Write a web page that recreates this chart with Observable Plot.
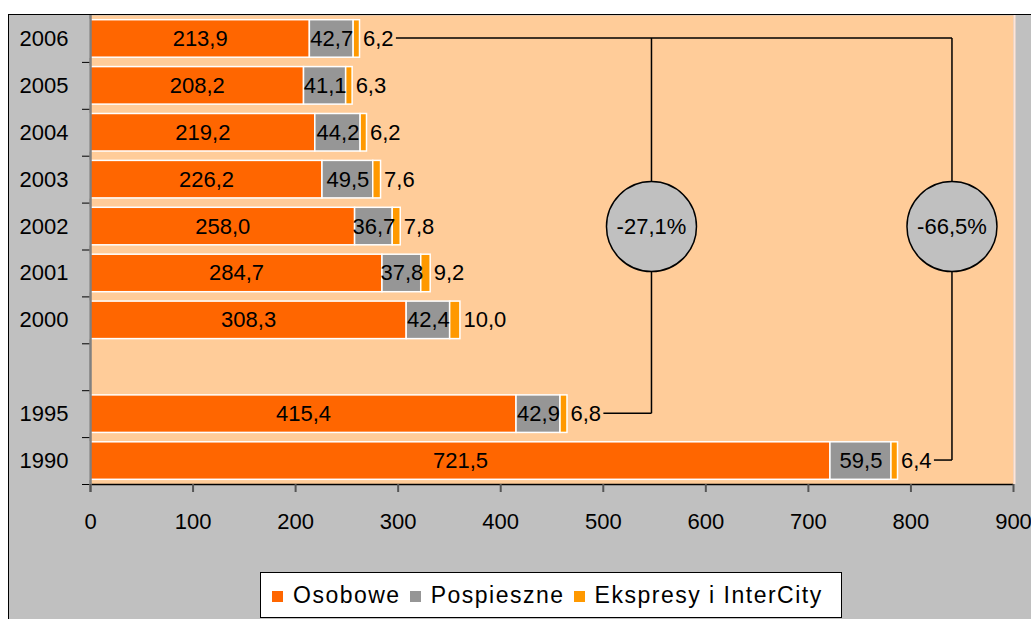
<!DOCTYPE html>
<html><head><meta charset="utf-8">
<script src="https://cdn.jsdelivr.net/npm/d3@7"></script>
<script src="https://cdn.jsdelivr.net/npm/@observablehq/plot@0.6"></script>
<style>
body{margin:0;background:#fff;width:1031px;height:619px;overflow:hidden;position:relative;font-family:"Liberation Sans",Arial,sans-serif;}
#bg{position:absolute;left:8px;top:14px;right:0;bottom:0;background:#C0C0C0;border-left:1px solid #000;border-top:1px solid #000;}
#chart{position:absolute;left:0;top:0;}
#legend{position:absolute;left:260px;top:572px;background:#fff;border:1px solid #000;display:flex;align-items:center;padding-left:11px;box-sizing:border-box;width:582px;height:46px;font-size:23px;letter-spacing:1.5px;color:#000;white-space:nowrap;}
#legend .item{display:flex;align-items:center;margin-right:9px;}
#legend .sw{width:11px;height:11px;margin-right:10px;margin-top:2px;}
</style>
</head><body>
<div id="bg"></div>
<div id="chart"></div>
<div id="legend"></div>
<script>
// ---- data ----
const years = ["2006","2005","2004","2003","2002","2001","2000"," ","1995","1990"];
const osobowe    = [213.9, 208.2, 219.2, 226.2, 258.0, 284.7, 308.3, null, 415.4, 721.5];
const pospieszne = [42.7, 41.1, 44.2, 49.5, 36.7, 37.8, 42.4, null, 42.9, 59.5];
const ekspresy   = [6.2, 6.3, 6.2, 7.6, 7.8, 9.2, 10.0, null, 6.8, 6.4];
const seriesNames = ["Osobowe", "Pospieszne", "Ekspresy i InterCity"];
const seriesColors = ["#FF6600", "#969696", "#FF9900"];
const xTicks = [0, 100, 200, 300, 400, 500, 600, 700, 800, 900];
// change annotations
const changeLabels = ["-27,1%", "-66,5%"];
const changeX = [547, 840];
const changeFrom = ["1995", "1990"];
const changeTo = "2006";
const changeRow = "2002";

// ---- build tables ----
const fmt = v => d3.format(".1f")(v).replace(".", ",");
const rows = years.map((y, i) => ({year: y, os: osobowe[i], po: pospieszne[i], ek: ekspresy[i]}))
  .filter(d => d.os != null);
rows.forEach(d => d.total = d.os + d.po + d.ek);
const long = [];
rows.forEach(d => {
  long.push({year: d.year, series: seriesNames[0], value: d.os});
  long.push({year: d.year, series: seriesNames[1], value: d.po});
  long.push({year: d.year, series: seriesNames[2], value: d.ek});
});
const totalOf = y => rows.find(d => d.year === y).total;
const labelGap = 35; // room for the value label before a connector starts
const segs = [];
segs.push({x1: totalOf(changeTo) + labelGap, y1: changeTo, x2: changeX[1], y2: changeTo});
changeX.forEach((cx, i) => {
  segs.push({x1: cx, y1: changeTo, x2: cx, y2: changeFrom[i]});
  segs.push({x1: totalOf(changeFrom[i]) + labelGap, y1: changeFrom[i], x2: cx, y2: changeFrom[i]});
});
const changes = changeLabels.map((t, i) => ({x: changeX[i], y: changeRow, text: t}));

const W = 1031, H = 540, mT = 15, mB = 56, mL = 90, mR = 18;
const step = (H - mT - mB) / years.length;   // band step (outer padding 0.1, inner 0.2)

const chart = Plot.plot({
  width: W, height: H,
  marginLeft: mL, marginRight: mR, marginTop: mT, marginBottom: mB,
  style: {background: "transparent", fontFamily: '"Liberation Sans",Arial,sans-serif', fontSize: "22px", color: "#000"},
  x: {domain: [0, 900], nice: false},
  y: {domain: years, paddingInner: 0.2, paddingOuter: 0.1, round: false},
  color: {domain: seriesNames, range: seriesColors},
  marks: [
    Plot.frame({fill: "#FFCC99", stroke: null}),
    Plot.ruleX([900], {stroke: "#FFE4D6", strokeWidth: 2, dx: 1}),
    Plot.barX(long, {y: "year", x: "value", fill: "series", stroke: "white", strokeWidth: 1.5, order: seriesNames}),
    Plot.text(rows, {y: "year", x: d => d.os / 2, text: d => fmt(d.os), fill: "#000"}),
    Plot.text(rows, {y: "year", x: d => d.os + d.po / 2, text: d => fmt(d.po), fill: "#000"}),
    Plot.text(rows, {y: "year", x: d => d.total, text: d => fmt(d.ek), textAnchor: "start", dx: 3, fill: "#000"}),
    Plot.link(segs, {x1: "x1", y1: "y1", x2: "x2", y2: "y2", stroke: "#000", strokeWidth: 1.5, dy: -1}),
    Plot.dot(changes, {x: "x", y: "y", r: 45, fill: "#C0C0C0", stroke: "#000", strokeWidth: 1.5}),
    Plot.text(changes, {x: "x", y: "y", text: "text", fill: "#000"}),
    Plot.ruleY(years, {x1: 0, x2: 0, insetLeft: -8, dy: step / 2, stroke: "#000", strokeWidth: 1}),
    Plot.ruleY([years[years.length - 1]], {dy: step / 2, stroke: "#000", strokeWidth: 1.5}),
    Plot.ruleX([0], {stroke: "#808080", strokeWidth: 2.5, insetBottom: -8}),
    Plot.axisY({tickSize: 0, tickPadding: 22, fill: "#000"}),
    Plot.axisX({ticks: xTicks, tickSize: 8, tickPadding: 21, stroke: "#555", strokeWidth: 2, fill: "#000", tickFormat: d => String(d)})
  ]
});
document.getElementById("chart").appendChild(chart);

// legend
const lg = document.getElementById("legend");
seriesNames.forEach((n, i) => {
  const it = document.createElement("div");
  it.className = "item";
  const sw = document.createElement("span");
  sw.className = "sw";
  sw.style.background = seriesColors[i];
  const tx = document.createElement("span");
  tx.textContent = n;
  it.appendChild(sw); it.appendChild(tx);
  lg.appendChild(it);
});
</script>
</body></html>
